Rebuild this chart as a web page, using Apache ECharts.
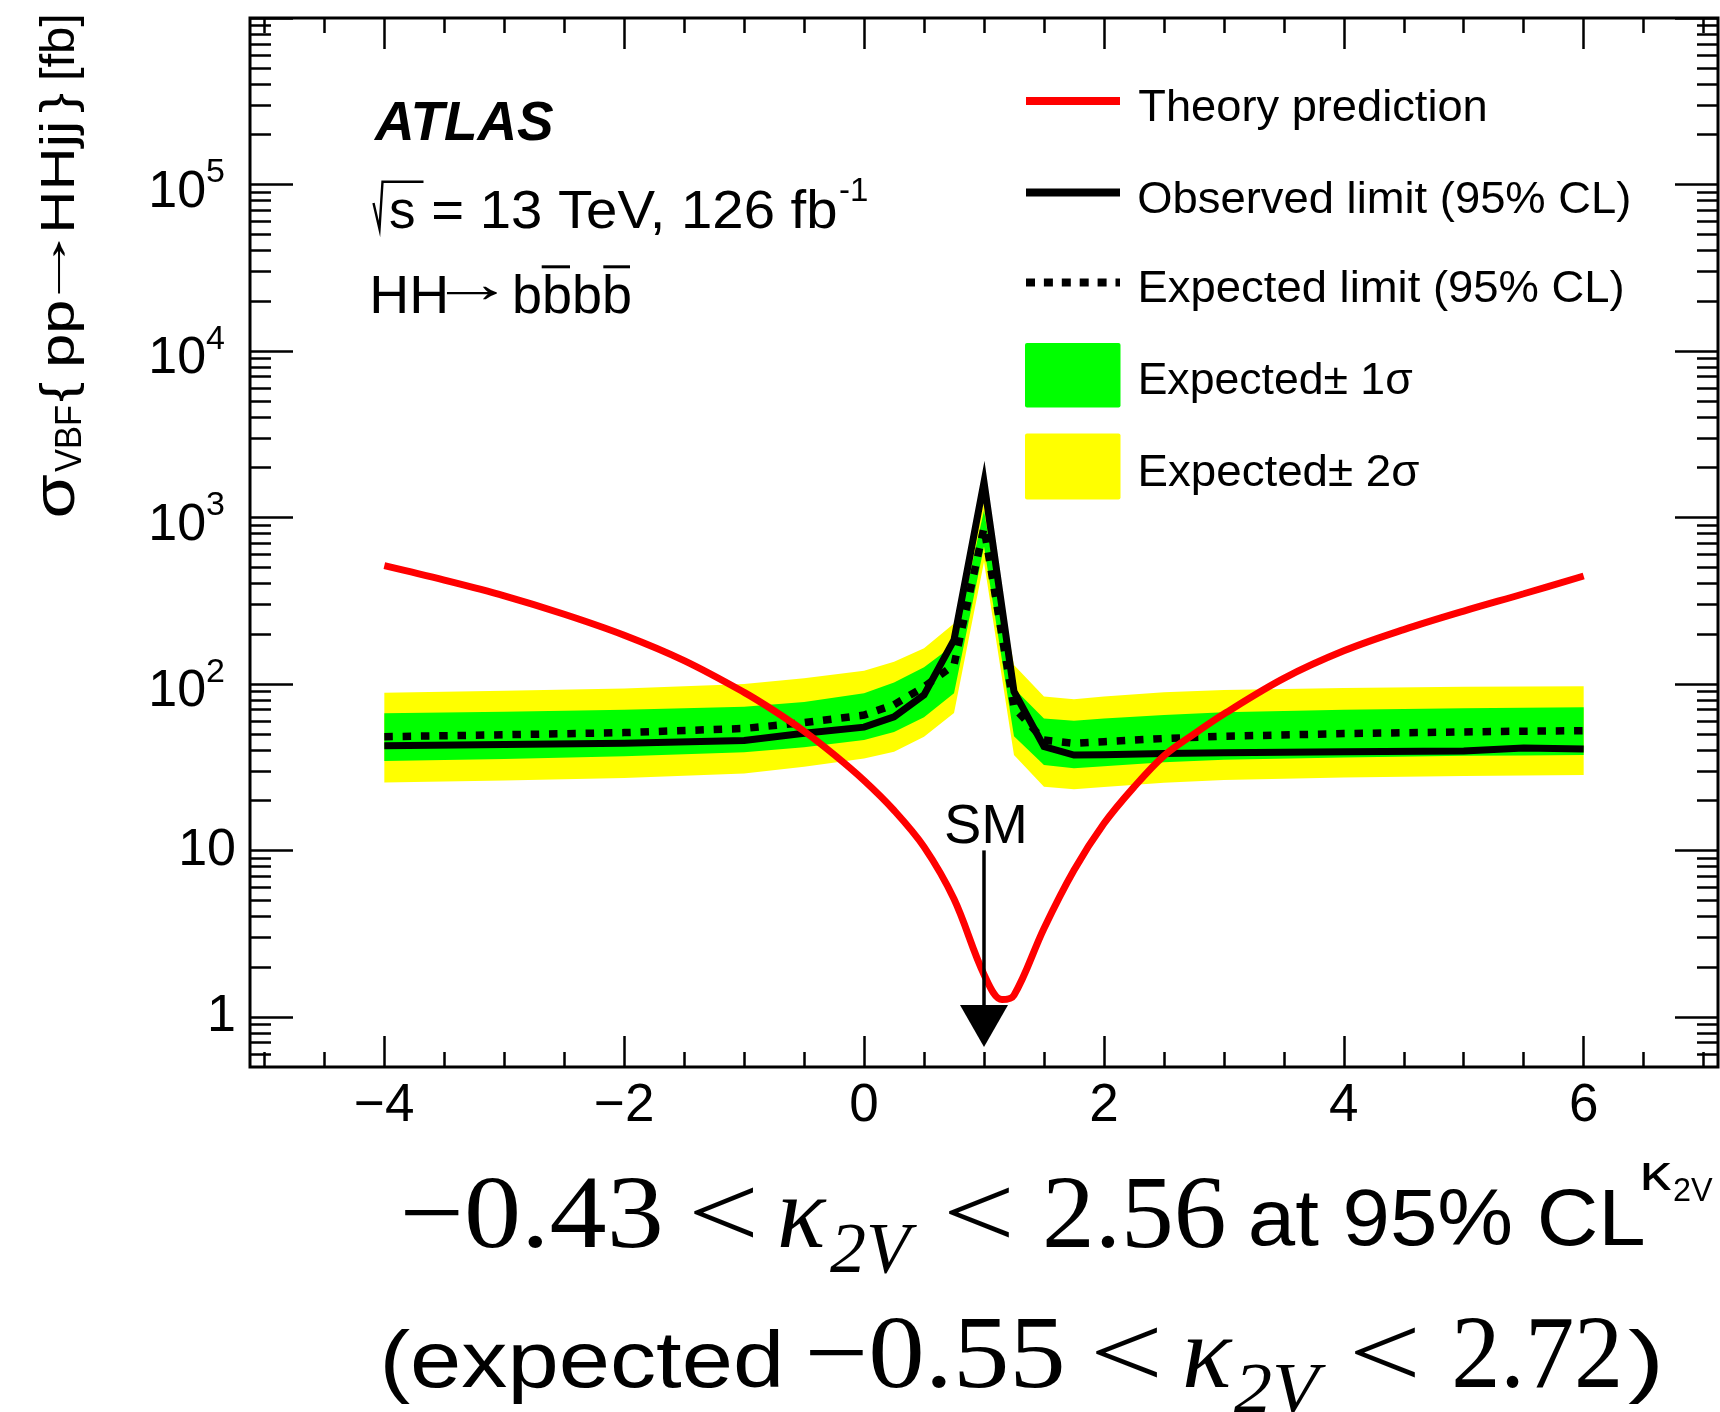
<!DOCTYPE html>
<html>
<head>
<meta charset="utf-8">
<script src="https://cdn.jsdelivr.net/npm/echarts@6/dist/echarts.min.js"></script>
<style>
  html, body { margin: 0; padding: 0; background: #ffffff; }
  #chart { width: 1720px; height: 1412px; }
</style>
</head>
<body>
<div id="chart"></div>
<script>
// ---- κ2V scan: limits on the VBF HH cross-section [fb] ----
const KAPPA        = [-4, -3, -2, -1, -0.5, 0, 0.25, 0.5, 0.75, 1, 1.25, 1.5, 1.75, 2, 2.5, 3, 4, 5, 5.5, 6];
const OBSERVED     = [42.5, 43.2, 44, 45.8, 50.5, 55, 63.5, 86, 184, 1630, 90, 42, 37.4, 37.6, 38.2, 38.6, 39.2, 39.6, 41.2, 40.6];
const EXPECTED     = [48.2, 49.5, 51, 54, 58.5, 65, 75, 96, 130, 870, 72, 46, 44, 45, 47, 48.5, 50.3, 51.5, 52, 52.4];
const EXP_1S_UP    = [66.6, 68, 70, 73, 78, 88, 102, 126, 172, 1100, 94, 62, 60, 62, 65, 67.5, 70, 71.5, 72, 72.3];
const EXP_1S_DOWN  = [34.4, 35.4, 36.8, 38.8, 41.6, 46, 51.5, 63, 88, 668, 48.5, 32.6, 31.1, 32, 33.8, 35, 36.2, 37, 37.2, 37.4];
const EXP_2S_UP    = [88.5, 91, 94, 100, 108, 120, 136, 164, 231, 1250, 130, 84, 81, 84, 89, 92, 94.5, 96, 96.5, 97];
const EXP_2S_DOWN  = [25.6, 26.3, 27.2, 29, 31.8, 35.7, 39.1, 48.2, 67, 540, 37.4, 24.1, 23.3, 24, 25.5, 26.5, 27.4, 28, 28.2, 28.4];

// ---- theory prediction ----
const THEORY_KAPPA = [-4, -3.5, -3, -2.5, -2, -1.5, -1, -0.75, -0.5, -0.25, 0, 0.25, 0.5, 0.75, 1.0, 1.15, 1.25, 1.5, 1.75, 2.0, 2.25, 2.5, 2.75, 3, 3.5, 4, 4.5, 5, 5.5, 6];
const THEORY_XSEC  = [513, 420, 338, 262, 196, 138, 89, 69, 52, 37.6, 26.3, 17.4, 10.5, 5.1, 1.8, 1.27, 1.35, 3.4, 7.6, 14.5, 24, 37, 50, 66, 108, 158, 212, 274, 348, 445];

// ---- Standard Model point ----
const SM_KAPPA = 1;

// ---- axis ticks ----
const X_MAJOR_TICKS = [-4, -2, 0, 2, 4, 6];
const X_MINOR_TICKS = [-5, -4.5, -4, -3.5, -3, -2.5, -2, -1.5, -1, -0.5, 0, 0.5, 1, 1.5, 2, 2.5, 3, 3.5, 4, 4.5, 5, 5.5, 6, 6.5, 7];
const Y_MAJOR_TICKS = [1, 10, 100, 1000, 10000, 100000, 1000000];
const Y_LABEL_TICKS = [1, 10, 100, 1000, 10000, 100000];
const Y_MINOR_TICKS = [0.6, 0.7, 0.8, 0.9,
  2, 3, 4, 5, 6, 7, 8, 9,
  20, 30, 40, 50, 60, 70, 80, 90,
  200, 300, 400, 500, 600, 700, 800, 900,
  2000, 3000, 4000, 5000, 6000, 7000, 8000, 9000,
  20000, 30000, 40000, 50000, 60000, 70000, 80000, 90000,
  200000, 300000, 400000, 500000, 600000, 700000, 800000, 900000];

const SANS = '"Liberation Sans", Arial, Helvetica, sans-serif';
const SERIF = '"Liberation Serif", "Times New Roman", serif';

// ---- text placement helpers (ink-box based) ----
const mctx = document.createElement('canvas').getContext('2d');
function measure(text, font) {
  mctx.font = font;
  mctx.textBaseline = 'alphabetic';
  const a = mctx.measureText(text);
  const h = mctx.measureText('H');
  mctx.textBaseline = 'middle';
  const m = mctx.measureText('H');
  mctx.textBaseline = 'alphabetic';
  return {
    l: a.actualBoundingBoxLeft, r: a.actualBoundingBoxRight,
    asc: a.actualBoundingBoxAscent, desc: a.actualBoundingBoxDescent,
    mid: h.actualBoundingBoxAscent - m.actualBoundingBoxAscent
  };
}
// text whose ink spans [x0, x1] sitting on the given baseline
function inkText(text, font, x0, x1, baseline, fill) {
  const k = measure(text, font);
  const sx = (x1 - x0) / (k.l + k.r);
  return {
    type: 'text', x: x0 + k.l * sx, y: baseline - k.mid, scaleX: sx, silent: true, z: 20,
    style: { text: text, font: font, fill: fill || '#000', align: 'left', verticalAlign: 'middle' }
  };
}
// text at natural width, ink starting at x0
function inkTextAt(text, font, x0, baseline) {
  const k = measure(text, font);
  return {
    type: 'text', x: x0 + k.l, y: baseline - k.mid, silent: true, z: 20,
    style: { text: text, font: font, fill: '#000', align: 'left', verticalAlign: 'middle' }
  };
}
function inkTextCentered(text, font, x0, x1, yc) {
  const k = measure(text, font);
  return inkText(text, font, x0, x1, yc + (k.asc - k.desc) / 2);
}

// ---- axes ----
const tickStyle = { color: '#000', width: 2.5 };
function xAxisDef(position, ticks, len, labels) {
  return {
    type: 'value', position: position, min: -5.12, max: 7.12,
    axisLine: { show: false, onZero: false }, splitLine: { show: false },
    axisTick: { show: true, inside: true, length: len, customValues: ticks, lineStyle: tickStyle },
    axisLabel: labels ? {
      show: true, customValues: labels, margin: 13,
      fontSize: 53, fontFamily: SANS, color: '#000',
      formatter: v => (v < 0 ? '\u2212' + Math.abs(v) : String(v))
    } : { show: false }
  };
}
function yAxisDef(position, ticks, len, labels) {
  return {
    type: 'log', logBase: 10, position: position, min: 0.5, max: 1000000,
    axisLine: { show: false, onZero: false }, splitLine: { show: false },
    axisTick: { show: true, inside: true, length: len, customValues: ticks, lineStyle: tickStyle },
    axisLabel: labels ? {
      show: true, customValues: labels, margin: 14,
      fontSize: 52, fontFamily: SANS, color: '#000',
      formatter: v => {
        const e = Math.round(Math.log10(v));
        if (e === 0) return '1';
        if (e === 1) return '10';
        return '{b|10}{s|' + e + '}';
      },
      rich: {
        b: { fontSize: 52, fontFamily: SANS, color: '#000', lineHeight: 52, padding: [16, 0, 0, 0] },
        s: { fontSize: 34, fontFamily: SANS, color: '#000', lineHeight: 34, padding: [0, 11, 23, 0] }
      }
    } : { show: false }
  };
}

// ---- series ----
const pairs = (xs, ys) => xs.map((x, i) => [x, ys[i]]);
function bandSeries(name, up, down, color, z) {
  return {
    type: 'custom', name: name, xAxisIndex: 0, yAxisIndex: 0, z: z, silent: true,
    data: [[KAPPA[0], up[0]]],
    renderItem: (params, api) => {
      const pts = KAPPA.map((k, i) => api.coord([k, up[i]]));
      for (let i = KAPPA.length - 1; i >= 0; i--) pts.push(api.coord([KAPPA[i], down[i]]));
      return { type: 'polygon', shape: { points: pts }, style: { fill: color } };
    }
  };
}

const smFont = '56px ' + SANS;
const smArrow = {
  type: 'custom', name: 'SM', z: 8, silent: true,
  data: [[SM_KAPPA, 10]],
  renderItem: (params, api) => {
    const top = api.coord([SM_KAPPA, 10]);
    const tip = api.coord([SM_KAPPA, 0.66]);
    const headLen = 42, headHalf = 24;
    const k = measure('SM', smFont);
    return {
      type: 'group',
      children: [
        { type: 'line', shape: { x1: top[0], y1: top[1], x2: tip[0], y2: tip[1] - headLen + 2 }, style: { stroke: '#000', lineWidth: 3.5 } },
        { type: 'polygon', shape: { points: [[tip[0] - headHalf, tip[1] - headLen], [tip[0] + headHalf, tip[1] - headLen], [tip[0], tip[1]]] }, style: { fill: '#000' } },
        { type: 'text', x: top[0] + 2, y: top[1] - 7 - k.mid, style: { text: 'SM', font: smFont, fill: '#000', align: 'center', verticalAlign: 'middle' } }
      ]
    };
  }
};

// ---- annotations: labels, legend, axis title, limits ----
const graphics = [];
const f = (size, family, style) => (style ? style + ' ' : '') + size + 'px ' + family;

// ATLAS label block
graphics.push(inkText('ATLAS', f(55, SANS, 'italic bold'), 373, 554, 140));
graphics.push({ type: 'polyline', silent: true, z: 20,
  shape: { points: [[373.5, 203], [379.5, 229], [382.5, 181.7], [423.5, 181.7]] },
  style: { stroke: '#000', lineWidth: 2.4, fill: null } });
graphics.push(inkTextAt('s', f(53, SANS), 390, 228.3));
graphics.push(inkText('= 13 TeV, 126 fb', f(53, SANS), 433.3, 836, 228.3));
graphics.push(inkTextAt('-1', f(33, SANS), 840, 201));
graphics.push(inkText('HH', f(54, SANS), 373.3, 445, 313.3));
graphics.push(inkTextCentered('\u2192', f(54, SANS), 447, 497, 293.3));
graphics.push(inkText('bbbb', f(54, SANS), 515, 630, 313.3));
graphics.push({ type: 'rect', silent: true, z: 20, shape: { x: 541.7, y: 265.3, width: 28.3, height: 3 }, style: { fill: '#000' } });
graphics.push({ type: 'rect', silent: true, z: 20, shape: { x: 603.3, y: 265.3, width: 26.7, height: 3 }, style: { fill: '#000' } });

// legend
graphics.push({ type: 'line', silent: true, z: 20, shape: { x1: 1026, y1: 101, x2: 1120, y2: 101 }, style: { stroke: '#ff0000', lineWidth: 8 } });
graphics.push({ type: 'line', silent: true, z: 20, shape: { x1: 1026, y1: 192.5, x2: 1120, y2: 192.5 }, style: { stroke: '#000', lineWidth: 8 } });
graphics.push({ type: 'line', silent: true, z: 20, shape: { x1: 1026, y1: 282.5, x2: 1120, y2: 282.5 }, style: { stroke: '#000', lineWidth: 8, lineDash: [9, 8.9] } });
graphics.push({ type: 'rect', silent: true, z: 20, shape: { x: 1025, y: 343, width: 95.5, height: 64.5, r: 2 }, style: { fill: '#00ff00' } });
graphics.push({ type: 'rect', silent: true, z: 20, shape: { x: 1025, y: 433.5, width: 95.5, height: 66, r: 2 }, style: { fill: '#ffff00' } });
const legendFont = f(45, SANS);
graphics.push(inkText('Theory prediction', legendFont, 1139.3, 1485.7, 121));
graphics.push(inkText('Observed limit (95% CL)', legendFont, 1139.3, 1629.4, 212.5));
graphics.push(inkText('Expected limit (95% CL)', legendFont, 1140.6, 1622.7, 301.7));
graphics.push(inkText('Expected\u00b1 1\u03c3', legendFont, 1140.6, 1412.9, 394));
graphics.push(inkText('Expected\u00b1 2\u03c3', legendFont, 1140.6, 1419.6, 485.5));

// y-axis title (reads bottom to top; local x runs upward on screen)
const titleFont = f(48, SANS);
graphics.push({
  type: 'group', x: 74, y: 0, rotation: Math.PI / 2, silent: true, z: 20,
  children: [
    inkText('\u03c3', f(60, SANS), -516, -474, 0),
    inkText('VBF', f(36, SANS), -472, -406, 7),
    inkText('{', titleFont, -402, -382, 0),
    inkText('pp', titleFont, -364, -302, 0),
    inkTextCentered('\u2192', titleFont, -295, -240, -15),
    inkText('HHjj', titleFont, -230, -124, 0),
    inkText('}', titleFont, -113, -93, 0),
    inkText('[fb]', titleFont, -78, -16.5, 0)
  ]
});

// κ2V interval text below the frame
const B1 = 1247, B2 = 1387;
const serif = s => f(s, SERIF), serifIt = s => f(s, SERIF, 'italic'), sans = s => f(s, SANS);
[
  ['\u22120.43', serif(103), 405, 660, B1],
  ['<', serif(103), 694, 754, B1],
  ['\u03ba', serifIt(103), 780, 827, B1],
  ['2V', serifIt(72), 830, 917, B1 + 25],
  ['<', serif(103), 949, 1010, B1],
  ['2.56', serif(103), 1046, 1224, B1],
  ['at 95% CL', sans(80), 1251, 1643, B1 - 2],
  ['\u03ba', sans(52), 1643, 1672, 1190],
  ['2V', sans(34), 1674, 1713, 1201],
  ['(expected', sans(80), 384, 779, B2],
  ['\u22120.55', serif(103), 810, 1062, B2],
  ['<', serif(103), 1096, 1158, B2],
  ['\u03ba', serifIt(103), 1185, 1233, B2],
  ['2V', serifIt(72), 1234, 1326, B2 + 25],
  ['<', serif(103), 1355, 1416, B2],
  ['2.72', serif(103), 1455, 1618, B2],
  [')', sans(80), 1628, 1658, B2]
].forEach(p => graphics.push(inkText(p[0], p[1], p[2], p[3], p[4])));

const chart = echarts.init(document.getElementById('chart'), null, { renderer: 'canvas', width: 1720, height: 1412 });
chart.setOption({
  animation: false,
  backgroundColor: '#ffffff',
  textStyle: { fontFamily: SANS, color: '#000' },
  grid: { left: 250, top: 18, width: 1468, height: 1049, show: true, borderColor: '#000', borderWidth: 3, backgroundColor: 'transparent' },
  xAxis: [
    xAxisDef('bottom', X_MAJOR_TICKS, 31, X_MAJOR_TICKS),
    xAxisDef('bottom', X_MINOR_TICKS, 15, null),
    xAxisDef('top', X_MAJOR_TICKS, 31, null),
    xAxisDef('top', X_MINOR_TICKS, 15, null)
  ],
  yAxis: [
    yAxisDef('left', Y_MAJOR_TICKS, 43, Y_LABEL_TICKS),
    yAxisDef('left', Y_MINOR_TICKS, 21, null),
    yAxisDef('right', Y_MAJOR_TICKS, 43, null),
    yAxisDef('right', Y_MINOR_TICKS, 21, null)
  ],
  series: [
    bandSeries('Expected \u00b1 2\u03c3', EXP_2S_UP, EXP_2S_DOWN, '#ffff00', 1),
    bandSeries('Expected \u00b1 1\u03c3', EXP_1S_UP, EXP_1S_DOWN, '#00ff00', 2),
    {
      type: 'line', name: 'Expected limit (95% CL)', z: 3, data: pairs(KAPPA, EXPECTED),
      symbol: 'none', silent: true,
      lineStyle: { color: '#000', width: 7.5, type: [8.5, 9.8], cap: 'butt', join: 'miter', miterLimit: 30 }
    },
    {
      type: 'line', name: 'Observed limit (95% CL)', z: 4, data: pairs(KAPPA, OBSERVED),
      symbol: 'none', silent: true,
      lineStyle: { color: '#000', width: 7, join: 'miter', miterLimit: 30 }
    },
    {
      type: 'line', name: 'Theory prediction', z: 5, data: pairs(THEORY_KAPPA, THEORY_XSEC),
      symbol: 'none', silent: true, smooth: 0.35,
      lineStyle: { color: '#ff0000', width: 7 }
    },
    smArrow
  ],
  graphic: { elements: graphics }
});
</script>
</body>
</html>
